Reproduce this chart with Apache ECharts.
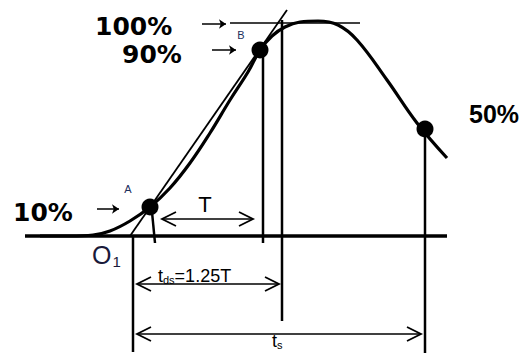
<!DOCTYPE html>
<html>
<head>
<meta charset="utf-8">
<script src="https://cdn.jsdelivr.net/npm/echarts@6/dist/echarts.min.js"></script>
<style>
  html, body { margin: 0; padding: 0; background: #fff; }
  #main { width: 525px; height: 353px; }
</style>
</head>
<body>
<div id="main"></div>
<script>
// response curve (x = time, y = screen units, 236 = baseline)
const curveX = [40, 70, 93, 110, 130, 150, 170, 190, 210, 230, 248, 260, 272, 285, 300, 318, 338, 357, 387, 417, 447];
const curveY = [236, 236, 235, 231, 221, 207, 188, 163, 133, 100, 72, 50, 36, 27, 22, 21, 25, 40, 80, 123, 158];
// marked points A, B and 50%
const dotX = [150, 260, 425];
const dotY = [207, 50, 129];

// guide lines
const baseline = [[25, 236], [447, 236]];
const tangent = [[130, 236], [287, 10]];
const topLine = [[230, 23], [360, 23]];
const verticals = [
  [[133, 236], [133, 352]],
  [[152, 212], [155, 243]],
  [[263, 50], [263, 243]],
  [[282, 20], [282, 321]],
  [[425, 129], [425, 353]]
];
// small pointers next to the percentages
const pointers = [
  [[202, 24], [226, 24]],
  [[212, 50], [236, 50]],
  [[97, 209], [119, 209]]
];
// dimension arrows: [from, to, y]
const spans = [
  [162, 253, 219],
  [137, 279, 284],
  [137, 421, 334]
];

const chart = echarts.init(document.getElementById('main'), null, { renderer: 'svg' });

const segData = [];
segData.push({ coords: baseline, lineStyle: { width: 3.5 } });
segData.push({ coords: tangent, lineStyle: { width: 1.8 } });
segData.push({ coords: topLine, lineStyle: { width: 1.5 } });
verticals.forEach(v => segData.push({ coords: v, lineStyle: { width: 2.5 } }));
spans.forEach(s => {
  const [a, b, y] = s;
  segData.push({ coords: [[a, y], [b, y]], lineStyle: { width: 1.5 } });
  segData.push({ coords: [[a + 14, y - 7], [a, y], [a + 14, y + 7]], lineStyle: { width: 1.8 } });
  segData.push({ coords: [[b - 14, y - 7], [b, y], [b - 14, y + 7]], lineStyle: { width: 1.8 } });
});

const texts = [
  { value: [95, 26], t: '100%', style: 'big', align: 'left' },
  { value: [122, 54], t: '90%', style: 'big', align: 'left' },
  { value: [13, 212], t: '10%', style: 'big', align: 'left' },
  { value: [469, 114], t: '50%', style: 'mid', align: 'left' },
  { value: [128, 189], t: 'A', style: 'small', align: 'center' },
  { value: [241, 35], t: 'B', style: 'small', align: 'center' },
  { value: [205, 204], t: 'T', style: 'tee', align: 'center' },
  { value: [92, 255], t: '{o|O}{sub|1}', style: 'o', align: 'left' },
  { value: [158, 276], t: '{t|t}{sub2|ds}{t|=1.25T}', style: 'o', align: 'left' },
  { value: [272, 341], t: '{t|t}{sub2|s}', style: 'o', align: 'left' }
];

const styles = {
  big: { fontFamily: 'DejaVu Sans', fontWeight: 'bold', fontSize: 25, lineHeight: 22, color: '#000' },
  mid: { fontFamily: 'Liberation Sans', fontWeight: 'bold', fontSize: 25, color: '#000' },
  small: { fontFamily: 'Liberation Sans', fontSize: 11, color: '#1c2f5c' },
  tee: { fontFamily: 'Liberation Sans', fontSize: 22, color: '#000' },
  o: { fontFamily: 'Liberation Sans', fontSize: 16, color: '#000' }
};

chart.setOption({
  animation: false,
  grid: { left: 0, right: 0, top: 0, bottom: 0 },
  xAxis: { type: 'value', min: 0, max: 525, show: false },
  yAxis: { type: 'value', min: 0, max: 353, inverse: true, show: false },
  series: [
    {
      type: 'lines',
      coordinateSystem: 'cartesian2d',
      polyline: true,
      silent: true,
      lineStyle: { color: '#000', opacity: 1 },
      data: segData
    },
    {
      type: 'lines',
      coordinateSystem: 'cartesian2d',
      silent: true,
      symbol: ['none', 'arrow'],
      symbolSize: 7,
      lineStyle: { color: '#000', width: 1.5, opacity: 1 },
      data: pointers.map(p => ({ coords: p }))
    },
    {
      type: 'line',
      smooth: 0.4,
      showSymbol: false,
      lineStyle: { color: '#000', width: 3.2 },
      data: curveX.map((x, i) => [x, curveY[i]])
    },
    {
      type: 'scatter',
      symbolSize: 17,
      itemStyle: { color: '#000', opacity: 1 },
      data: dotX.map((x, i) => [x, dotY[i]])
    },
    {
      type: 'scatter',
      symbolSize: 0,
      silent: true,
      itemStyle: { opacity: 1 },
      data: texts.map(d => ({
        value: d.value,
        label: Object.assign({
          show: true,
          position: 'inside',
          align: d.align,
          verticalAlign: 'middle',
          formatter: d.t,
          rich: {
            o: { fontFamily: 'Liberation Sans', fontSize: 25, color: '#1a1a3a' },
            sub: { fontFamily: 'Liberation Sans', fontSize: 15, color: '#1a1a3a', padding: [12, 0, 0, 1] },
            t: { fontFamily: 'Liberation Sans', fontSize: 18, lineHeight: 14, color: '#000' },
            sub2: { fontFamily: 'Liberation Sans', fontSize: 11, lineHeight: 10, color: '#000', padding: [8, 0, 0, 0] }
          }
        }, styles[d.style])
      }))
    }
  ]
});
</script>
</body>
</html>
